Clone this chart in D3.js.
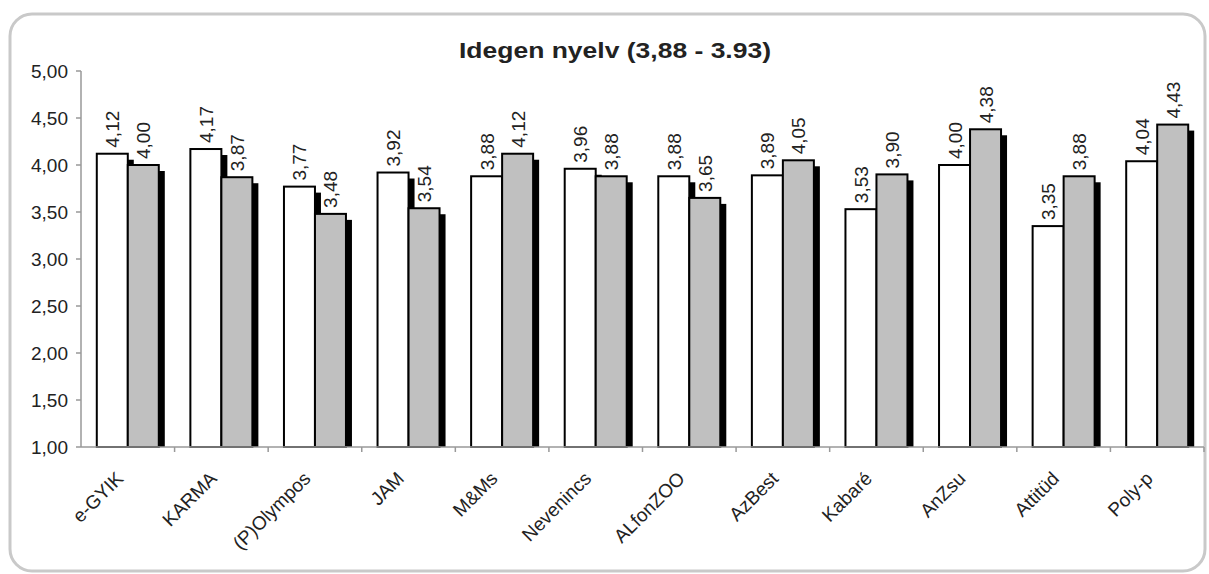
<!DOCTYPE html>
<html><head><meta charset="utf-8">
<script src="https://cdn.jsdelivr.net/npm/d3@7/dist/d3.min.js"></script>
<style>body{margin:0;background:#fff}svg{display:block}</style>
</head><body><svg id="c" width="1209" height="574"></svg>
<script>
const categories = ["e-GYIK","KARMA","(P)Olympos","JAM","M&Ms","Nevenincs","ALfonZOO","AzBest","Kabaré","AnZsu","Attitüd","Poly-p"];
const series1 = [4.12,4.17,3.77,3.92,3.88,3.96,3.88,3.89,3.53,4.00,3.35,4.04];
const series2 = [4.00,3.87,3.48,3.54,4.12,3.88,3.65,4.05,3.90,4.38,3.88,4.43];
const yTicks = [1.00,1.50,2.00,2.50,3.00,3.50,4.00,4.50,5.00];
const title = "Idegen nyelv (3,88 - 3.93)";

const svg = d3.select("#c");
const font = "Liberation Sans, Arial, sans-serif";
const fmt = v => d3.format(".2f")(v).replace(".", ",");

svg.append("rect").attr("x",10).attr("y",14).attr("width",1195).attr("height",557)
  .attr("rx",22).attr("fill","#fff").attr("stroke","#c9c9c9").attr("stroke-width",3);

svg.append("text").attr("x",615).attr("y",58).attr("text-anchor","middle")
  .attr("font-family",font).attr("font-weight","bold").attr("font-size",22)
  .attr("textLength",312).attr("lengthAdjust","spacingAndGlyphs")
  .attr("fill","#222").text(title);

const x0 = 81, x1 = 1204, yTop = 71, yBot = 447;
const x = d3.scaleBand().domain(categories).range([x0,x1]).padding(0);
const y = d3.scaleLinear().domain([1,5]).range([yBot,yTop]);
const bw = 31, sh = 6;

const g = svg.append("g");
categories.forEach((c,i)=>{
  const cx = x(c) + x.bandwidth()/2;
  const vals = [series1[i], series2[i]];
  const fills = ["#ffffff","#c0c0c0"];
  vals.forEach((v,j)=>{
    const bx = cx - bw + j*bw;
    g.append("rect").attr("x",bx+sh).attr("y",y(v)+sh)
      .attr("width",bw).attr("height",Math.max(0,y(1)-y(v)-sh)).attr("fill","#000");
    g.append("rect").attr("x",bx).attr("y",y(v)).attr("width",bw).attr("height",y(1)-y(v))
      .attr("fill",fills[j]).attr("stroke","#000").attr("stroke-width",2);
  });
  vals.forEach((v,j)=>{
    const lx = cx - bw/2 + j*bw;
    g.append("text").attr("transform",`translate(${lx+7},${y(v)-6}) rotate(-90)`)
      .attr("font-family",font).attr("font-size",19).attr("fill","#222").text(fmt(v));
  });
});

const ax = svg.append("g").attr("stroke","#999").attr("stroke-width",1.5);
ax.append("line").attr("x1",x0).attr("x2",x0).attr("y1",yTop).attr("y2",yBot);
ax.append("line").attr("x1",x0).attr("x2",x1).attr("y1",yBot).attr("y2",yBot);
yTicks.forEach(t=>{
  ax.append("line").attr("x1",x0-5).attr("x2",x0).attr("y1",y(t)).attr("y2",y(t));
  svg.append("text").attr("x",x0-13).attr("y",y(t)).attr("dy","0.36em").attr("text-anchor","end")
    .attr("font-family",font).attr("font-size",19).attr("fill","#222").text(fmt(t));
});
categories.forEach((c,i)=>{
  const bx = x(c) + x.bandwidth();
  ax.append("line").attr("x1",bx).attr("x2",bx).attr("y1",yBot).attr("y2",yBot+5);
  const cx = x(c) + x.bandwidth()/2;
  svg.append("text").attr("transform",`translate(${cx-8},${yBot+28}) rotate(-45)`)
    .attr("text-anchor","end").attr("dy","0.35em")
    .attr("font-family",font).attr("font-size",19).attr("fill","#222").text(c);
});
</script></body></html>
